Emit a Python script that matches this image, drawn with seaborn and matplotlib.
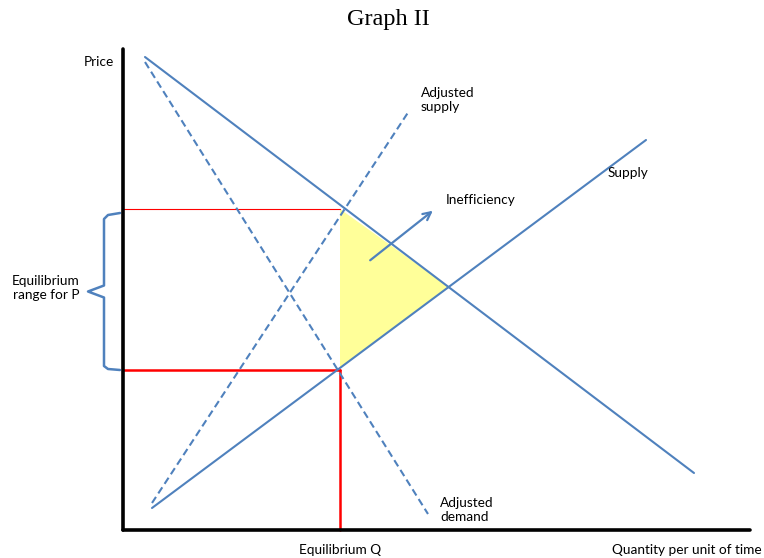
import numpy as np
import pandas as pd
import matplotlib
matplotlib.use("Agg")
import matplotlib.pyplot as plt
import seaborn as sns

# curve end points (quantity, price) in chart units
demand_q = [22, 571]
demand_p = [473, 57]
supply_q = [29, 523]
supply_p = [22, 390]
adj_supply_q = [29, 286]
adj_supply_p = [27, 419]
adj_demand_q = [22, 305]
adj_demand_p = [468, 16]

eq_q = 217          # equilibrium quantity
p_low = 160         # lower bound of price range
p_high = 321        # upper bound of price range
ineff_q = [217, 217, 326]
ineff_p = [321, 162, 243]
arrow_from = (245, 268)
arrow_to = (312, 321)

axis_q_max = 627
axis_p_max = 481

blue = "#4F81BD"

sns.set_theme(style="white")
plt.rcParams["font.family"] = ["Lato", "DejaVu Sans"]

rows = []
for name, qs, ps in [("Demand", demand_q, demand_p),
                     ("Supply", supply_q, supply_p),
                     ("Adjusted supply", adj_supply_q, adj_supply_p),
                     ("Adjusted demand", adj_demand_q, adj_demand_p)]:
    for q, p in zip(qs, ps):
        rows.append({"curve": name, "q": q, "p": p})
df = pd.DataFrame(rows)

fig = plt.figure(figsize=(7.64, 5.58), dpi=100)
ax = fig.add_axes([0, 0, 1, 1])
ax.set_xlim(-123, 641)
ax.set_ylim(-28, 530)
ax.axis("off")

# inefficiency triangle
ax.fill(ineff_q, ineff_p, color="#FFFF99", zorder=1, lw=0)

sns.lineplot(data=df, x="q", y="p", units="curve", style="curve", estimator=None,
             sort=False, color=blue, lw=1.5, ax=ax, legend=False,
             dashes={"Demand": "", "Supply": "",
                     "Adjusted supply": (3.5, 2), "Adjusted demand": (3.5, 2)},
             zorder=3)

# axes
ax.plot([0, 0], [0, axis_p_max], color="black", lw=2.6, zorder=4)
ax.plot([0, axis_q_max], [0, 0], color="black", lw=2.6, zorder=4)

# equilibrium guides
ax.plot([0, eq_q], [p_low, p_low], color="red", lw=1.8, zorder=2)
ax.plot([eq_q, eq_q], [0, p_low], color="red", lw=1.8, zorder=2)
ax.plot([0, eq_q], [p_high, p_high], color="red", lw=0.8, zorder=2)

# brace for price range
mid = (p_low + p_high) / 2
bq = [-3, -15, -19, -19, -35, -19, -19, -15, -3]
bp = [p_high - 4, p_high - 6, p_high - 10, mid + 4, mid - 2, mid - 8, p_low + 4, p_low + 1, p_low]
ax.plot(bq, bp, color=blue, lw=1.8, zorder=2)

# inefficiency arrow
ax.annotate("", xy=arrow_to, xytext=arrow_from,
            arrowprops=dict(arrowstyle="->", color=blue, lw=1.6, mutation_scale=14))

fs = 9.8
tc = "black"
ax.text(-9, 468, "Price", ha="right", va="center", fontsize=fs, color=tc)
ax.text(298, 430, "Adjusted\nsupply", ha="left", va="center", fontsize=fs,
        linespacing=1.2, color=tc)
ax.text(485, 357, "Supply", ha="left", va="center", fontsize=fs, color=tc)
ax.text(323, 330, "Inefficiency", ha="left", va="center", fontsize=fs, color=tc)
ax.text(317, 20, "Adjusted\ndemand", ha="left", va="center", fontsize=fs,
        linespacing=1.2, color=tc)
ax.text(eq_q, -20, "Equilibrium Q", ha="center", va="center", fontsize=fs, color=tc)
ax.text(639, -20, "Quantity per unit of time", ha="right", va="center",
        fontsize=fs, color=tc)
ax.text(-77, 242, "Equilibrium\nrange for P", ha="center", va="center", fontsize=fs,
        linespacing=1.2, color=tc)

fig.text(388 / 764, 1 - 20 / 558, "Graph II", ha="center", va="center",
         fontsize=17.5, family="Liberation Serif", color="black")

fig.savefig("out.png", dpi=100)
